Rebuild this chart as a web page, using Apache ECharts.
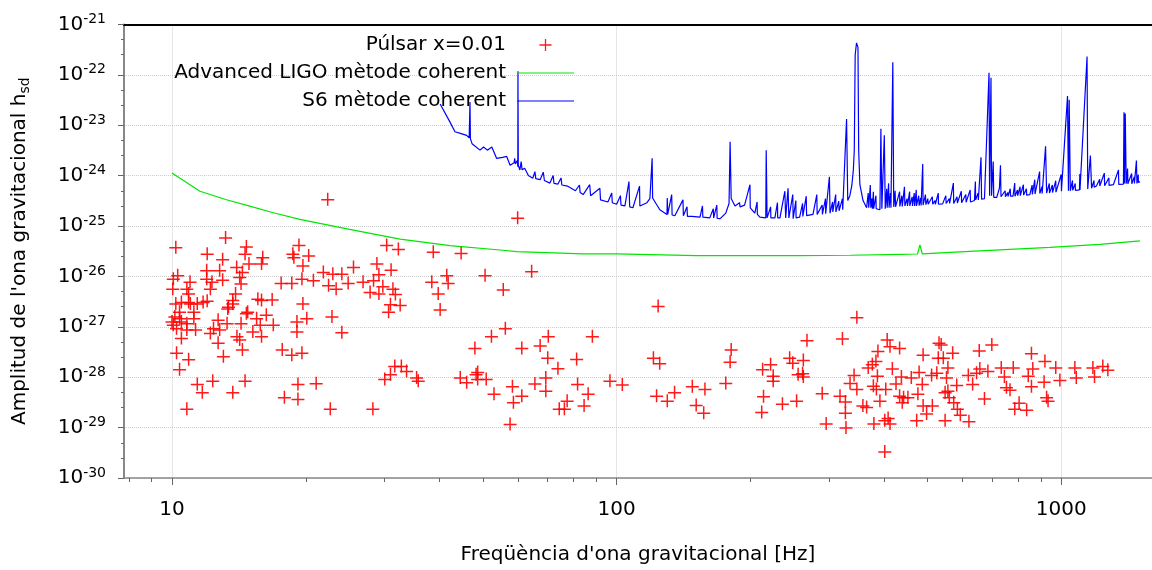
<!DOCTYPE html>
<html><head><meta charset="utf-8">
<script src="https://cdn.jsdelivr.net/npm/echarts@6/dist/echarts.min.js"></script>
<style>html,body{margin:0;padding:0;background:#fff}#c{width:1152px;height:570px}</style>
</head><body><div id="c"></div>
<script>
const pulsarFreq = [
 10.2, 13.2, 22.4, 12.0, 13.0, 14.6, 14.7, 14.9, 16.0, 15.9,
 18.7, 19.3, 18.8, 20.3, 19.7, 30.4, 32.3, 38.7, 44.7, 28.9,
 31.1, 25.6, 21.9, 23.0, 24.1, 41.5, 50.6, 10.3, 10.07, 11.97,
 12.8, 13.98, 14.4, 10.98, 10.04, 10.8, 11.97, 12.3, 12.2, 13.0,
 14.2, 14.3, 17.6, 18.6, 19.6, 20.8, 22.5, 23.4, 24.9, 26.9,
 28.4, 29.2, 29.8, 31.4, 31.8, 27.9, 29.2, 38.4, 41.8, 39.7,
 40.1, 31.0, 32.6, 30.7, 19.7, 16.8, 15.9, 15.6, 13.9, 13.7,
 13.4, 10.9, 10.2, 10.5, 11.0, 11.4, 12.0, 10.4, 11.2, 14.7,
 16.3, 10.9, 11.75, 13.35, 13.7, 10.15, 10.0, 10.4, 10.07, 10.24,
 10.5, 10.8, 11.2, 11.3, 10.5, 10.8, 10.24, 10.9, 10.4, 10.8,
 11.4, 11.7, 12.35, 12.2, 12.4, 12.7, 12.7, 13.05, 12.8, 13.3,
 13.7, 14.6, 14.0, 14.2, 14.4, 14.3, 14.8, 15.2, 15.8, 15.9,
 15.5, 16.9, 17.7, 18.6, 19.6, 19.1, 19.1, 20.1, 22.9, 24.1,
 17.9, 19.2, 19.2, 21.1, 22.7, 28.3, 30.1, 31.0, 31.7, 32.8,
 33.7, 35.8, 35.5, 44.5, 46.0, 48.3, 48.7, 50.9, 53.0, 48.0,
 52.3, 59.9, 64.4, 55.6, 124, 56.2, 61.2, 70.2, 67.3, 70.0,
 81.3, 73.8, 88.2, 48.7, 58.3, 61.2, 58.6, 57.6, 65.5, 69.3,
 69.3, 77.4, 74.3, 76.3, 81.7, 86.3, 84.5, 96.6, 103, 121,
 125, 123, 130, 135, 148, 158, 151, 157, 181, 180,
 176, 213, 222, 225, 225, 214, 212, 236, 254, 245,
 249, 256, 347, 268, 322, 263, 262, 263, 290, 296,
 318, 327, 327, 328, 335, 342, 347, 358, 365, 368,
 376, 387, 383, 386, 378, 384, 391, 403, 406, 412,
 433, 417, 425, 437, 379, 401, 408, 412, 401, 433,
 442, 452, 439, 460, 479, 489, 476, 487, 489, 498,
 473, 511, 513, 525, 531, 537, 529, 543, 570, 556,
 552, 556, 548, 560, 573, 584, 593, 620, 548, 582,
 618, 632, 645, 656, 654, 672, 684, 698, 733, 745,
 753, 780, 767, 804, 786, 836, 857, 857, 843, 863,
 919, 915, 927, 934, 972, 993, 1073, 1081, 1178, 1188,
 1240, 1273
];
const pulsarAmp = [
 3.8e-26, 5.9e-26, 3.4e-25, 2.8e-26, 2.2e-26, 2.8e-26, 3.9e-26, 1.8e-26, 2.4e-26, 1.8e-26,
 2.8e-26, 4.2e-26, 2.4e-26, 2.6e-26, 1.65e-26, 4.2e-26, 3.5e-26, 3.1e-26, 2.9e-26, 1.8e-26,
 1.35e-26, 1.53e-26, 1.22e-26, 1.13e-26, 1.13e-26, 1.05e-26, 1.05e-26, 1.05e-26, 9.0e-27, 1.32e-26,
 1.32e-26, 1.53e-26, 1.22e-26, 7.8e-27, 5.7e-27, 5.7e-27, 9.0e-27, 7.8e-27, 5.7e-27, 8.6e-27,
 9.7e-27, 7.2e-27, 7.4e-27, 7.4e-27, 9.0e-27, 8.4e-27, 6.7e-27, 5.7e-27, 7.4e-27, 7.8e-27,
 8.4e-27, 1.1e-26, 6.4e-27, 5.7e-27, 4.5e-27, 4.9e-27, 4.6e-27, 7.8e-27, 7.4e-27, 4.6e-27,
 2.2e-27, 2.8e-27, 2.7e-27, 2.0e-27, 2.9e-27, 3.5e-27, 3.4e-27, 3.6e-27, 4.6e-27, 3.4e-27,
 2.5e-27, 4.6e-27, 2.9e-27, 3.1e-27, 2.9e-27, 2.9e-27, 3.3e-27, 2.0e-27, 2.0e-27, 1.85e-27,
 1.73e-27, 3.1e-27, 3.1e-27, 2.3e-27, 2.9e-27, 1.6e-27, 1.27e-27, 1.48e-27, 1.1e-27, 9.4e-28,
 1.27e-27, 1.18e-27, 1.48e-27, 8.8e-28, 6.0e-28, 8.8e-28, 3.05e-28, 2.26e-28, 1.44e-28, 2.37e-29,
 7.3e-29, 5.0e-29, 8.5e-29, 7.5e-28, 9.4e-28, 1.38e-27, 4.8e-28, 2.6e-28, 8.8e-28, 1.18e-27,
 5.0e-29, 8.5e-29, 6.5e-28, 5.6e-28, 3.55e-28, 1.18e-27, 2.0e-27, 8.1e-28, 1.1e-27, 6.5e-28,
 1.48e-27, 1.1e-27, 3.55e-28, 2.8e-28, 3.05e-28, 1.27e-27, 8.1e-28, 1.48e-27, 1.6e-27, 7.8e-28,
 4.0e-29, 7.3e-29, 3.7e-29, 7.6e-29, 2.37e-29, 2.37e-29, 9.2e-29, 1.15e-28, 1.67e-28, 1.67e-28,
 1.33e-28, 8.5e-29, 9.9e-29, 9.9e-29, 7.9e-29, 1.15e-28, 9.2e-29, 9.2e-29, 4.7e-29, 3.8e-28,
 6.5e-28, 1.46e-25, 1.27e-26, 5.5e-27, 2.6e-27, 9.4e-28, 3.8e-28, 6.5e-28, 4.25e-28, 2.43e-28,
 2.3e-28, 1.5e-28, 6.5e-28, 1.27e-28, 6.6e-29, 4.3e-29, 3.2e-29, 1.18e-29, 7.5e-29, 9.9e-29,
 5.4e-29, 3.4e-29, 2.37e-29, 2.37e-29, 7.3e-29, 4.7e-29, 2.75e-29, 8.5e-29, 7.2e-29, 2.43e-28,
 1.9e-28, 4.3e-29, 3.4e-29, 5.0e-29, 6.6e-29, 5.85e-29, 2.8e-29, 1.97e-29, 3.55e-28, 2.03e-28,
 7.65e-29, 1.44e-28, 1.8e-28, 1.07e-28, 8.5e-29, 4.2e-29, 2.03e-29, 2.97e-29, 3.4e-29, 2.43e-28,
 1.94e-28, 1.15e-28, 1.55e-27, 5.4e-28, 5.85e-28, 2.2e-28, 1.2e-28, 1.03e-28, 4.8e-29, 1.2e-29,
 4.3e-29, 3.3e-29, 1.97e-29, 1.0e-29, 7.65e-29, 1.1e-28, 5.85e-29, 2.75e-29, 2.55e-29, 1.55e-28,
 1.8e-28, 3.3e-28, 2.1e-28, 1.07e-28, 6.8e-29, 5.85e-29, 3.4e-29, 5.85e-29, 5.6e-28, 4.1e-28,
 3.8e-28, 1.48e-28, 7.5e-29, 1.03e-28, 1.2e-29, 1.4e-29, 1.55e-29, 1.2e-29, 3.35e-30, 4.3e-29,
 4.0e-29, 4.0e-29, 3.2e-29, 9.9e-29, 1.27e-28, 2.8e-28, 4.7e-29, 7.3e-29, 2.75e-29, 1.9e-29,
 1.4e-29, 1.1e-28, 2.75e-29, 1.23e-28, 4.8e-28, 4.45e-28, 2.43e-28, 2.43e-28, 3.05e-28, 1.55e-28,
 9.9e-29, 5.4e-29, 5.0e-29, 4.0e-29, 3.2e-29, 2.37e-29, 1.8e-29, 1.33e-29, 1.4e-29, 7.0e-29,
 1.1e-28, 7.3e-29, 1.23e-28, 1.48e-28, 3.4e-28, 3.8e-29, 1.33e-28, 4.45e-28, 1.55e-28, 1.03e-28,
 6.3e-29, 1.55e-28, 5.65e-29, 3.1e-29, 2.37e-29, 2.26e-29, 2.97e-28, 6.6e-29, 1.07e-28, 1.48e-28,
 2.1e-28, 8.1e-29, 4.0e-29, 3.4e-29, 1.55e-28, 8.8e-29, 1.55e-28, 9.9e-29, 1.55e-28, 1.03e-28,
 1.67e-28, 1.4e-28
];
const aligoFreq = [10, 11.56, 13.2, 14.96, 16.9, 19.4, 25.1, 32.6, 42.2, 54.7, 59.6, 84, 100, 151, 258, 335, 434, 475, 481, 487, 562, 728, 943, 1221, 1503];
const aligoAmp = [1.12e-24, 4.9e-25, 3.35e-25, 2.48e-25, 1.83e-25, 1.35e-25, 8.6e-26, 5.5e-26, 4.07e-26, 3.34e-26, 3.09e-26, 2.79e-26, 2.79e-26, 2.59e-26, 2.59e-26, 2.63e-26, 2.74e-26, 2.78e-26, 4.2e-26, 2.8e-26, 3.0e-26, 3.37e-26, 3.77e-26, 4.32e-26, 5.06e-26];
// S6 spectrum: [frequency Hz, h_sd]
const s6Spectrum = [
 [40.1, 2.63e-23], [42.2, 1.15e-23], [43.3, 7.4e-24], [44.7, 6.8e-24], [46.0, 6.3e-24], [46.6, 5.6e-24], [46.8, 2.9e-23], [46.9, 5.4e-24],
 [47.3, 4.3e-24], [49.3, 3.2e-24], [50.2, 3.7e-24], [51.2, 3.2e-24], [52.4, 3.7e-24], [53.7, 2.2e-24], [55.4, 2.3e-24], [56.6, 2.4e-24],
 [57.6, 1.6e-24], [58.8, 1.8e-24], [59.0, 2.2e-24], [59.2, 1.7e-24], [59.8, 2.0e-24], [59.95, 1.5e-24], [60.0, 1.17e-22], [60.1, 1.6e-24],
 [60.6, 1.29e-24], [61.0, 1.9e-24], [61.3, 1.3e-24], [62.1, 1.4e-24], [63.0, 1.1e-24], [63.3, 1.0e-24], [64.8, 8.9e-25], [65.5, 1.2e-24],
 [65.8, 8.7e-25], [67.3, 8.3e-25], [68.4, 1.17e-24], [68.8, 8.0e-25], [70.8, 7.1e-25], [72.0, 1.0e-24], [72.3, 7.0e-25], [73.8, 6.8e-25],
 [75.0, 9.0e-25], [75.3, 6.5e-25], [77.5, 6.2e-25], [80.8, 5.0e-25], [82.5, 6.5e-25], [82.8, 4.6e-25], [84.1, 4.2e-25], [87.0, 6.6e-25],
 [87.4, 4.0e-25], [88.0, 3.8e-25], [91.7, 5.6e-25], [92.0, 3.3e-25], [95.6, 3.0e-25], [97.5, 4.5e-25], [97.8, 2.9e-25], [100, 2.7e-25],
 [102, 4.0e-25], [102.3, 2.6e-25], [104.4, 2.5e-25], [106.6, 7.6e-25], [107, 2.4e-25], [108.8, 2.3e-25], [112.6, 6.2e-25], [112.8, 2.5e-25],
 [117, 2.9e-25], [118.8, 3.5e-25], [120.2, 2.2e-24], [120.5, 3.6e-25], [122.6, 2.8e-25], [125.1, 2.1e-25], [129.8, 1.7e-25], [130, 3.6e-25],
 [130.3, 1.7e-25], [133, 4.2e-25], [133.3, 1.65e-25], [135.2, 1.6e-25], [141, 3.3e-25], [141.3, 1.6e-25], [144, 2.4e-25], [144.3, 1.55e-25],
 [147.7, 1.55e-25], [154, 1.5e-25], [156, 2.5e-25], [156.3, 1.5e-25], [162, 1.45e-25], [165, 2.2e-25], [165.3, 1.45e-25], [168, 2.6e-25],
 [168.3, 1.42e-25], [171, 1.4e-25], [176, 1.8e-25], [179, 2.8e-25], [180, 4.7e-24], [181, 3.5e-25], [182, 3.6e-25], [184.6, 2.5e-25],
 [189, 2.9e-25], [189.5, 2.4e-25], [194, 2.6e-25], [199.5, 6.6e-25], [199.8, 2.3e-25], [204.6, 1.8e-25], [207, 3.0e-25], [207.3, 1.7e-25],
 [210, 1.5e-25], [216.5, 1.45e-25], [217, 3.2e-24], [218, 1.45e-25], [222, 2.4e-25], [222.3, 1.45e-25], [227, 1.45e-25], [230, 2.9e-25],
 [230.3, 1.45e-25], [233, 1.45e-25], [239, 4.9e-25], [240, 1.45e-25], [243, 5.6e-25], [244, 1.45e-25], [249, 4.2e-25], [249.5, 1.4e-25],
 [253, 3.2e-25], [253.3, 1.45e-25], [258, 1.5e-25], [262, 2.8e-25], [262.3, 1.55e-25], [267, 3.9e-25], [267.5, 1.6e-25], [276.5, 1.7e-25],
 [282, 4.2e-25], [282.5, 1.7e-25], [290, 2.6e-25], [290.3, 1.7e-25], [295, 3.5e-25], [295.3, 1.75e-25], [301, 9.5e-25], [302, 1.8e-25],
 [306, 3.0e-25], [306.3, 1.9e-25], [311, 4.2e-25], [311.3, 1.9e-25], [316, 3.1e-25], [316.5, 2.0e-25], [318, 2.1e-25], [322, 3.5e-25],
 [322.5, 2.1e-25], [329, 1.33e-23], [331, 3.2e-25], [334.6, 4.0e-25], [338, 6.3e-25], [340.7, 1.26e-24], [342.4, 3.16e-24], [344, 2.5e-22],
 [346.4, 4.3e-22], [349, 3.5e-22], [350.3, 3.16e-24], [352.5, 6.6e-25], [358.3, 3.2e-25], [365, 2.3e-25], [368, 4.5e-25], [369, 2.3e-25],
 [372, 6.5e-25], [373, 2.3e-25], [375, 3.5e-25], [376, 2.2e-25], [378, 4.8e-25], [378.5, 2.2e-25], [383, 4.0e-25], [383.5, 2.2e-25],
 [391, 2.1e-25], [393, 8.5e-24], [395, 2.2e-25], [400, 6.3e-24], [402, 2.2e-25], [405, 5.5e-25], [406, 2.3e-25], [409, 7.0e-25],
 [410, 2.3e-25], [413, 4.5e-25], [414, 2.3e-25], [418, 1.78e-22], [420, 2.4e-25], [423, 5.0e-25], [424, 2.4e-25], [427, 2.45e-25],
 [433, 4.8e-25], [433.5, 2.45e-25], [438, 4.0e-25], [439, 2.45e-25], [444, 6.0e-25], [445, 2.5e-25], [450, 3.5e-25], [451, 2.5e-25],
 [456, 4.8e-25], [456.5, 2.5e-25], [462, 3.8e-25], [463, 2.5e-25], [467, 4.5e-25], [468, 2.5e-25], [472, 5.2e-25], [472.5, 2.5e-25],
 [478, 4.0e-25], [479, 2.55e-25], [483, 3.6e-25], [484, 2.55e-25], [488, 1.7e-24], [489, 2.6e-25], [495, 4.2e-25], [496, 2.65e-25],
 [501, 3.5e-25], [502, 2.7e-25], [507, 2.7e-25], [513, 3.8e-25], [514, 2.7e-25], [520, 3.2e-25], [521, 2.7e-25], [529, 4.5e-25],
 [529.5, 2.7e-25], [541, 2.75e-25], [550, 4.0e-25], [551, 2.8e-25], [560, 3.5e-25], [561, 2.8e-25], [572, 7.1e-25], [573, 2.8e-25],
 [583, 3.8e-25], [584, 2.85e-25], [596, 4.9e-25], [597, 2.9e-25], [602, 2.9e-25], [610, 4.2e-25], [611, 2.95e-25], [624, 5.2e-25],
 [625, 3.0e-25], [638, 3.2e-25], [641, 7.6e-25], [642, 3.3e-25], [650, 4.5e-25], [651, 3.3e-25], [660, 2.3e-24], [662, 3.4e-25],
 [672, 3.5e-25], [688, 1.1e-22], [690, 4.0e-25], [695, 8.7e-23], [697, 4.0e-25], [703, 1.9e-24], [705, 3.7e-25], [716, 3.7e-25],
 [726, 5.6e-25], [730, 1.6e-24], [732, 3.8e-25], [739, 3.8e-25], [748, 5.0e-25], [749, 3.8e-25], [758, 4.6e-25], [759, 3.85e-25],
 [768, 5.5e-25], [769, 3.9e-25], [779, 3.9e-25], [786, 7.1e-25], [787, 3.9e-25], [797, 5.2e-25], [798, 4.0e-25], [808, 6.0e-25],
 [809, 4.0e-25], [822, 6.6e-25], [823, 4.1e-25], [835, 5.5e-25], [836, 4.1e-25], [850, 4.2e-25], [860, 6.5e-25], [861, 4.25e-25],
 [872, 8.3e-25], [873, 4.3e-25], [894, 1.2e-24], [895, 4.4e-25], [905, 6.0e-25], [906, 4.4e-25], [922, 3.8e-24], [927, 4.5e-25],
 [940, 7.0e-25], [941, 4.5e-25], [955, 6.5e-25], [956, 4.6e-25], [972, 7.9e-25], [973, 4.7e-25], [1000, 1.05e-24], [1001, 4.9e-25],
 [1007, 4.9e-25], [1033, 3.8e-23], [1038, 5.0e-25], [1042, 3.2e-23], [1048, 5.0e-25], [1060, 8.0e-25], [1061, 5.1e-25], [1075, 7.0e-25],
 [1076, 5.1e-25], [1099, 5.2e-25], [1101, 1.07e-24], [1102, 5.2e-25], [1143, 2.3e-22], [1147, 5.4e-25], [1163, 2.5e-24], [1170, 5.6e-25],
 [1185, 8.0e-25], [1186, 5.9e-25], [1200, 6.2e-25], [1220, 8.5e-25], [1221, 6.2e-25], [1250, 1.12e-24], [1252, 6.3e-25], [1280, 9.0e-25],
 [1281, 6.4e-25], [1310, 6.6e-25], [1345, 1.29e-24], [1347, 6.7e-25], [1380, 6.8e-25], [1384, 1.8e-23], [1388, 7.0e-25], [1393, 1.7e-23],
 [1400, 6.9e-25], [1410, 1.38e-24], [1412, 6.9e-25], [1440, 1.1e-24], [1441, 6.9e-25], [1460, 9.5e-25], [1461, 7.0e-25], [1476, 2.0e-24],
 [1480, 7.0e-25], [1490, 1.05e-24], [1491, 7.3e-25], [1503, 7.6e-25]
];
const xMajorTicks = [10, 100, 1000];
const xMinorTicks = [8, 9, 20, 30, 40, 50, 60, 70, 80, 90, 200, 300, 400, 500, 600, 700, 800, 900];
const yMajorTicks = [1e-30, 1e-29, 1e-28, 1e-27, 1e-26, 1e-25, 1e-24, 1e-23, 1e-22, 1e-21];
const yMinorTicks = [2.5e-30, 5e-30, 2.5e-29, 5e-29, 2.5e-28, 5e-28, 2.5e-27, 5e-27, 2.5e-26, 5e-26,
  2.5e-25, 5e-25, 2.5e-24, 5e-24, 2.5e-23, 5e-23, 2.5e-22, 5e-22];
const seriesNames = ['Púlsar x=0.01', 'Advanced LIGO mètode coherent', 'S6 mètode coherent'];

const FONT = 'DejaVu Sans';
const XMIN = 7.8, XMAX = 1600, YMIN = 1e-30, YMAX = 1e-21;
// ECharts rounds log-axis tick values to 10 decimals, so the y axis works in units of 1e-30.
const Y_UNIT_EXP = -30;
const yu = v => +(v * Math.pow(10, -Y_UNIT_EXP)).toPrecision(12);
const plusPath = 'path://M0,6.25h13v1.5h-13z M5.75,0h1.5v13h-1.5z';
const legendPlus = 'path://M0,0h0.01v0.01h-0.01z M56.99,19.99h0.01v0.01h-0.01z M22.5,9.35h12v1.3h-12z M27.85,4h1.3v12h-1.3z';
const legendLine = 'path://M0,0h0.01v0.01h-0.01z M56.99,19.99h0.01v0.01h-0.01z M0,9.5h57v1h-57z';

const chart = echarts.init(document.getElementById('c'), null, {renderer: 'canvas'});
const zipY = (a, b) => a.map((v, i) => [v, yu(b[i])]);

chart.setOption({
  animation: false,
  backgroundColor: '#ffffff',
  textStyle: {fontFamily: FONT},
  grid: {left: 124, right: 0, top: 24.4, bottom: 86.6, containLabel: false},
  legend: {
    orient: 'vertical', right: 573, top: 30, align: 'right',
    itemWidth: 57, itemHeight: 20, itemGap: 8,
    textStyle: {fontSize: 20, fontFamily: FONT, color: '#000', padding: [0, 6, 0, 0]},
    data: [
      {name: seriesNames[0], icon: legendPlus},
      {name: seriesNames[1], icon: legendLine},
      {name: seriesNames[2], icon: legendLine}
    ]
  },
  xAxis: [
    {
      type: 'log', logBase: 10, min: XMIN, max: XMAX, position: 'bottom',
      name: "Freqüència d'ona gravitacional [Hz]", nameLocation: 'middle', nameGap: 67,
      nameTextStyle: {fontSize: 20, fontFamily: FONT, color: '#000'},
      axisLine: {show: true, onZero: false, lineStyle: {color: '#888888', width: 1.5}},
      axisTick: {show: true, customValues: xMajorTicks, length: 7, lineStyle: {color: '#666666', width: 1}},
      axisLabel: {customValues: xMajorTicks, fontSize: 20, fontFamily: FONT, color: '#000', margin: 22,
        formatter: v => String(Math.round(v))},
      splitLine: {show: true, lineStyle: {type: 'dotted', color: '#cccccc', width: 1}}
    },
    {
      type: 'log', logBase: 10, min: XMIN, max: XMAX, position: 'top',
      axisLine: {show: true, onZero: false, lineStyle: {color: '#000', width: 2}},
      axisTick: {show: false}, axisLabel: {show: false}, splitLine: {show: false}
    },
    {
      type: 'log', logBase: 10, min: XMIN, max: XMAX, position: 'bottom',
      axisLine: {show: false, onZero: false},
      axisTick: {show: true, customValues: xMinorTicks, length: 4, lineStyle: {color: '#666666', width: 1}},
      axisLabel: {show: false}, splitLine: {show: false}
    }
  ],
  yAxis: [
    {
      type: 'log', logBase: 10, min: yu(YMIN), max: yu(YMAX), position: 'left',
      name: "{a|Amplitud de l'ona gravitacional h}{s|sd}", nameLocation: 'middle', nameGap: 92, nameRotate: 90,
      nameTextStyle: {fontSize: 20, fontFamily: FONT, color: '#000',
        rich: {a: {fontSize: 20, fontFamily: FONT, color: '#000'}, s: {fontSize: 14, fontFamily: FONT, color: '#000', padding: [10, 0, 0, 0]}}},
      axisLine: {show: true, onZero: false, lineStyle: {color: '#888888', width: 2}},
      axisTick: {show: true, customValues: yMajorTicks.map(yu), length: 6, lineStyle: {color: '#666666', width: 1}},
      axisLabel: {customValues: yMajorTicks.map(yu), showMaxLabel: true, showMinLabel: true, margin: 18, color: '#000',
        formatter: v => '{b|10}{s|' + (Math.round(Math.log10(v)) + Y_UNIT_EXP) + '}',
        rich: {b: {fontSize: 20, fontFamily: FONT, color: '#000'}, s: {fontSize: 14, fontFamily: FONT, color: '#000', padding: [0, 0, 10, 0]}}},
      splitLine: {show: true, lineStyle: {type: 'dotted', color: '#cccccc', width: 1}}
    },
    {
      type: 'log', logBase: 10, min: yu(YMIN), max: yu(YMAX), position: 'left',
      axisLine: {show: false, onZero: false},
      axisTick: {show: true, customValues: yMinorTicks.map(yu), length: 3, lineStyle: {color: '#666666', width: 1}},
      axisLabel: {show: false}, splitLine: {show: false}
    }
  ],
  series: [
    {
      name: seriesNames[0], type: 'scatter', xAxisIndex: 0, yAxisIndex: 0,
      data: zipY(pulsarFreq, pulsarAmp), symbol: plusPath, symbolSize: 13,
      itemStyle: {color: '#ff0000', opacity: 0.9}, z: 4
    },
    {
      name: seriesNames[1], type: 'line', xAxisIndex: 0, yAxisIndex: 0,
      data: zipY(aligoFreq, aligoAmp), symbol: 'none', showSymbol: false,
      lineStyle: {color: '#00e600', width: 1.2}, itemStyle: {color: '#00e600'}, z: 3
    },
    {
      name: seriesNames[2], type: 'line', xAxisIndex: 0, yAxisIndex: 0,
      data: s6Spectrum.map(p => [p[0], yu(p[1])]), symbol: 'none', showSymbol: false,
      lineStyle: {color: '#0000ff', width: 1.2}, itemStyle: {color: '#0000ff'}, z: 3
    }
  ]
});
</script></body></html>
